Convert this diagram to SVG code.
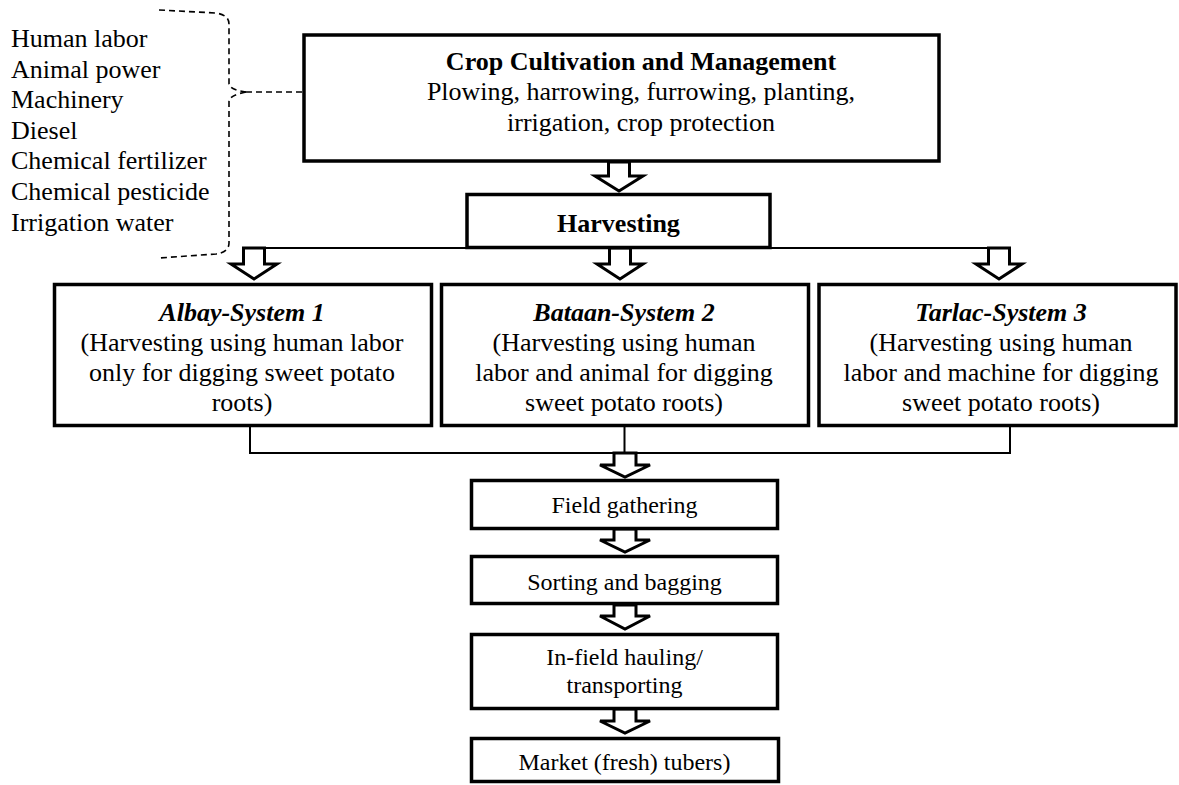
<svg xmlns="http://www.w3.org/2000/svg" width="1179" height="785" viewBox="0 0 1179 785">
<style>
.box{fill:#fff;stroke:#000;stroke-width:3.5}
.arr{fill:#fff;stroke:#000;stroke-width:3;stroke-linejoin:miter}
.ln{fill:none;stroke:#000;stroke-width:2}
.dash{fill:none;stroke:#000;stroke-width:1.6;stroke-dasharray:6 4}
text{font-family:"Liberation Serif","Times New Roman",serif;fill:#000}
.t26{font-size:26px}
.t24{font-size:24px}
.c{text-anchor:middle}
.b{font-weight:bold}
.bi{font-weight:bold;font-style:italic}
</style>
<rect width="1179" height="785" fill="#fff"/>
<g id="inputs">
<text class="t26" x="11" y="47">Human labor</text>
<text class="t26" x="11" y="78">Animal power</text>
<text class="t26" x="11" y="108">Machinery</text>
<text class="t26" x="11" y="139">Diesel</text>
<text class="t26" x="11" y="169">Chemical fertilizer</text>
<text class="t26" x="11" y="200">Chemical pesticide</text>
<text class="t26" x="11" y="231">Irrigation water</text>
</g>
<g id="connectors">
<path class="dash" d="M159,10 L216,13 Q229,15 229,24 L229,84 Q230,90 246,92"/>
<path class="dash" d="M246,92 H302"/>
<path class="dash" d="M246,92 Q230,95 229,101 L229,243 Q229,252 216,254 L159,258"/>
<path class="ln" d="M243,248 H1008"/>
<path class="ln" d="M250,426 V453 H1010 V426 M624.5,426 V453"/>
<path class="arr" d="M608.5,162 V176 H595 L619,191 L643,176 H629.5 V162 Z"/>
<path class="arr" d="M243.5,248 V264 H231 L254,279 L277,264 H264.5 V248 Z"/>
<path class="arr" d="M609.5,248 V264 H597 L620,279 L643,264 H630.5 V248 Z"/>
<path class="arr" d="M988.5,248 V264 H976 L999,279 L1022,264 H1009.5 V248 Z"/>
<path class="arr" d="M614,453 V465 H600 L625,477 L650,465 H636 V453 Z"/>
<path class="arr" d="M614,529 V540 H600 L625,552 L650,540 H636 V529 Z"/>
<path class="arr" d="M614,605 V616 H600 L625,629 L650,616 H636 V605 Z"/>
<path class="arr" d="M614,709 V721 H600 L625,733 L650,721 H636 V709 Z"/>
</g>
<g id="cultivation">
<rect class="box" x="304" y="35" width="635" height="126"/>
<text class="t26 c b" x="641" y="70">Crop Cultivation and Management</text>
<text class="t26 c" x="641" y="100">Plowing, harrowing, furrowing, planting,</text>
<text class="t26 c" x="641" y="131">irrigation, crop protection</text>
</g>
<g id="harvesting">
<rect class="box" x="467" y="194.5" width="303" height="53"/>
<text class="t26 c b" x="618.5" y="232">Harvesting</text>
</g>
<g id="albay">
<rect class="box" x="54.5" y="284.5" width="377" height="141"/>
<text class="t26 c bi" x="242" y="321">Albay-System 1</text>
<text class="t26 c" x="242" y="351">(Harvesting using human labor</text>
<text class="t26 c" x="242" y="381">only for digging sweet potato</text>
<text class="t26 c" x="242" y="411">roots)</text>
</g>
<g id="bataan">
<rect class="box" x="441.5" y="284.5" width="367" height="141"/>
<text class="t26 c bi" x="624" y="321">Bataan-System 2</text>
<text class="t26 c" x="624" y="351">(Harvesting using human</text>
<text class="t26 c" x="624" y="381">labor and animal for digging</text>
<text class="t26 c" x="624" y="411">sweet potato roots)</text>
</g>
<g id="tarlac">
<rect class="box" x="819" y="284.5" width="357" height="141"/>
<text class="t26 c bi" x="1001" y="321">Tarlac-System 3</text>
<text class="t26 c" x="1001" y="351">(Harvesting using human</text>
<text class="t26 c" x="1001" y="381">labor and machine for digging</text>
<text class="t26 c" x="1001" y="411">sweet potato roots)</text>
</g>
<g id="field-gathering">
<rect class="box" x="471.5" y="480.5" width="306" height="48"/>
<text class="t24 c" x="624.5" y="513">Field gathering</text>
</g>
<g id="sorting">
<rect class="box" x="471.5" y="556.5" width="306" height="47"/>
<text class="t24 c" x="624.5" y="590">Sorting and bagging</text>
</g>
<g id="hauling">
<rect class="box" x="471.5" y="634.5" width="306" height="74"/>
<text class="t24 c" x="624.5" y="665">In-field hauling/</text>
<text class="t24 c" x="624.5" y="693">transporting</text>
</g>
<g id="market">
<rect class="box" x="471.5" y="738.5" width="307" height="43"/>
<text class="t24 c" x="624.5" y="770">Market (fresh) tubers)</text>
</g>
</svg>
